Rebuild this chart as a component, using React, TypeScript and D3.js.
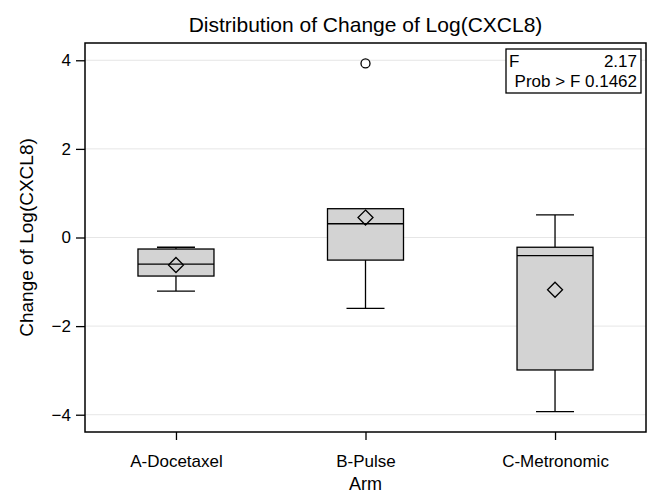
import { useEffect, useRef } from "react";
import * as d3 from "d3";

// arms on the x axis
const arms = ["A-Docetaxel", "B-Pulse", "C-Metronomic"];
// box statistics per arm
const mins = [-1.21, -1.6, -3.93];
const q1s = [-0.87, -0.51, -2.99];
const medians = [-0.6, 0.31, -0.41];
const q3s = [-0.26, 0.65, -0.22];
const maxs = [-0.22, 0.65, 0.51];
const means = [-0.62, 0.45, -1.18];
// outliers: [arm index, value]
const outliers: [number, number][] = [[1, 3.93]];
const yTicks = [-4, -2, 0, 2, 4];
const fStat = "2.17";
const pValue = "0.1462";

const W = 648;
const H = 496;
const margin = { top: 43, right: 2, bottom: 64, left: 85 };
const FONT = "'Liberation Sans', Arial, sans-serif";

export default function App() {
  const ref = useRef<SVGSVGElement>(null);

  useEffect(() => {
    const svg = d3.select(ref.current);
    svg.selectAll("*").remove();

    const x = d3
      .scalePoint()
      .domain(arms)
      .range([margin.left, W - margin.right])
      .padding(0.48);
    const y = d3
      .scaleLinear()
      .domain([-4.39, 4.39])
      .range([H - margin.bottom, margin.top]);

    const x0 = margin.left;
    const x1 = W - margin.right;
    const y0 = H - margin.bottom;
    const y1 = margin.top;

    // grid lines
    svg
      .append("g")
      .selectAll("line")
      .data(yTicks)
      .join("line")
      .attr("x1", x0)
      .attr("x2", x1)
      .attr("y1", (d) => y(d))
      .attr("y2", (d) => y(d))
      .attr("stroke", "#e6e6e6")
      .attr("stroke-width", 1);

    const boxW = 76;
    const capW = 38;
    const g = svg.append("g").attr("stroke", "#000").attr("stroke-width", 1.3);

    arms.forEach((arm, i) => {
      const cx = x(arm)!;
      // whiskers
      g.append("line")
        .attr("x1", cx).attr("x2", cx)
        .attr("y1", y(q3s[i])).attr("y2", y(maxs[i]));
      g.append("line")
        .attr("x1", cx).attr("x2", cx)
        .attr("y1", y(q1s[i])).attr("y2", y(mins[i]));
      if (maxs[i] > q3s[i]) {
        g.append("line")
          .attr("x1", cx - capW / 2).attr("x2", cx + capW / 2)
          .attr("y1", y(maxs[i])).attr("y2", y(maxs[i]));
      }
      g.append("line")
        .attr("x1", cx - capW / 2).attr("x2", cx + capW / 2)
        .attr("y1", y(mins[i])).attr("y2", y(mins[i]));
      // box
      g.append("rect")
        .attr("x", cx - boxW / 2)
        .attr("y", y(q3s[i]))
        .attr("width", boxW)
        .attr("height", y(q1s[i]) - y(q3s[i]))
        .attr("fill", "#d3d3d3");
      // median
      g.append("line")
        .attr("x1", cx - boxW / 2).attr("x2", cx + boxW / 2)
        .attr("y1", y(medians[i])).attr("y2", y(medians[i]));
      // mean diamond
      const my = y(means[i]);
      const s = 7.5;
      g.append("path")
        .attr("d", `M${cx},${my - s}L${cx + s},${my}L${cx},${my + s}L${cx - s},${my}Z`)
        .attr("fill", "none");
    });

    outliers.forEach(([i, v]) => {
      g.append("circle")
        .attr("cx", x(arms[i])!)
        .attr("cy", y(v))
        .attr("r", 4.5)
        .attr("fill", "none");
    });

    // frame
    svg
      .append("rect")
      .attr("x", x0)
      .attr("y", y1)
      .attr("width", x1 - x0)
      .attr("height", y0 - y1)
      .attr("fill", "none")
      .attr("stroke", "#000")
      .attr("stroke-width", 1.5);

    // y axis
    const yAxis = svg
      .append("g")
      .attr("transform", `translate(${x0},0)`)
      .call(d3.axisLeft(y).tickValues(yTicks).tickSize(9).tickPadding(5).tickFormat(d3.format("d")));
    yAxis.select(".domain").remove();
    yAxis.selectAll("line").attr("stroke", "#000").attr("stroke-width", 1.3);
    yAxis.selectAll("text").attr("font-family", FONT).attr("font-size", 17).attr("fill", "#000");

    // x axis
    const xAxis = svg
      .append("g")
      .attr("transform", `translate(0,${y0})`)
      .call(d3.axisBottom(x).tickSize(8).tickPadding(15));
    xAxis.select(".domain").remove();
    xAxis.selectAll("line").attr("stroke", "#000").attr("stroke-width", 1.3);
    xAxis.selectAll("text").attr("font-family", FONT).attr("font-size", 17).attr("fill", "#000");

    // inset stats table
    const ix = 506;
    const iy = 49;
    const iw = 135;
    const ih = 44;
    svg
      .append("rect")
      .attr("x", ix).attr("y", iy).attr("width", iw).attr("height", ih)
      .attr("fill", "#fff").attr("stroke", "#000").attr("stroke-width", 1.3);
    const rowTxt = (t: string, tx: number, ty: number, anchor: string) =>
      svg.append("text")
        .attr("x", tx).attr("y", ty)
        .attr("text-anchor", anchor)
        .attr("font-family", FONT).attr("font-size", 17)
        .text(t);
    rowTxt("F", ix + 3, iy + 18, "start");
    rowTxt(fStat, ix + iw - 4, iy + 18, "end");
    rowTxt(`Prob > F ${pValue}`, ix + iw - 4, iy + 38, "end");

    // title
    svg.append("text")
      .attr("x", (x0 + x1) / 2).attr("y", 32)
      .attr("text-anchor", "middle")
      .attr("font-family", FONT).attr("font-size", 21)
      .text("Distribution of Change of Log(CXCL8)");

    // axis labels
    svg.append("text")
      .attr("x", (x0 + x1) / 2).attr("y", 490)
      .attr("text-anchor", "middle")
      .attr("font-family", FONT).attr("font-size", 18)
      .text("Arm");
    svg.append("text")
      .attr("transform", `translate(33,${(y0 + y1) / 2}) rotate(-90)`)
      .attr("text-anchor", "middle")
      .attr("font-family", FONT).attr("font-size", 19)
      .text("Change of Log(CXCL8)");
  }, []);

  return (
    <svg
      ref={ref}
      width={W}
      height={H}
      style={{ position: "absolute", left: 0, top: 0, background: "#fff" }}
    />
  );
}
